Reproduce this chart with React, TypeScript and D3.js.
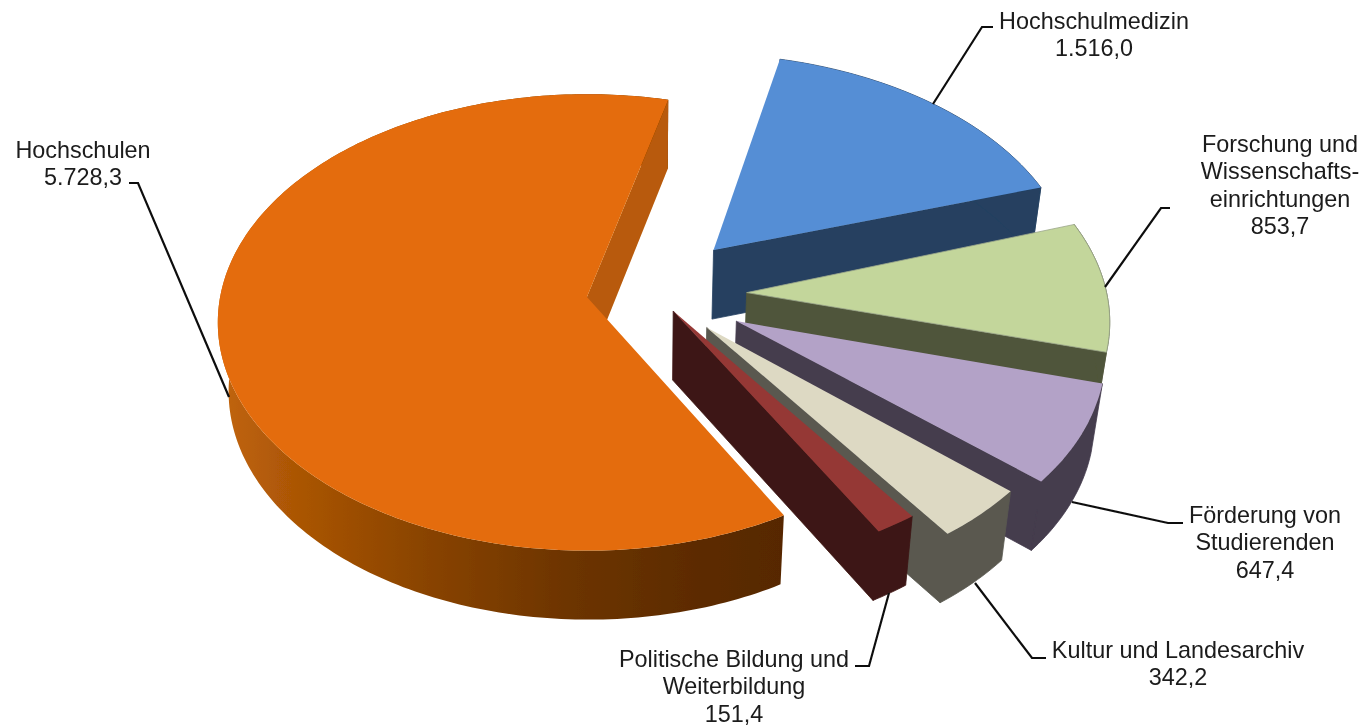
import React from "react";
import * as d3 from "d3";

const categories = ["Hochschulen", "Hochschulmedizin", "Forschung und Wissenschaftseinrichtungen", "Förderung von Studierenden", "Kultur und Landesarchiv", "Politische Bildung und Weiterbildung"];
const values = [5728.3, 1516.0, 853.7, 647.4, 342.2, 151.4];
const labelLines = [
  ["Hochschulen"],
  ["Hochschulmedizin"],
  ["Forschung und", "Wissenschafts-", "einrichtungen"],
  ["Förderung von", "Studierenden"],
  ["Kultur und Landesarchiv"],
  ["Politische Bildung und", "Weiterbildung"],
];
const topColors = ["#E46C0A", "#558ED5", "#C3D69B", "#B3A2C7", "#DDD9C3", "#953735"];
const wallColors = ["#B85A08", "#254061", "#4F543A", "#453C4E", "#5A5950", "#3D1514"];
const explode = [0.215, 0.25, 0.215, 0.22, 0.18, 0.09];
const nudge = [[-1, -1], [-14, -5], [-4, -5], [-7, 0], [-10, 2], [-13, 1]];
const apexShift = [[0, 0], [1, 3], [6, 6], [5, 5], [5, 3], [2, 1]];
const labelPos = [
  { x: 83, y: 158 }, { x: 1094, y: 29 }, { x: 1280, y: 152 },
  { x: 1265, y: 523 }, { x: 1178, y: 658 }, { x: 734, y: 667 },
];
const leaders = [
  [[129, 183], [138, 183], [229, 397]],
  [[993, 27], [982, 27], [933, 104]],
  [[1170, 208], [1161, 208], [1105, 287]],
  [[1183, 523], [1168, 523], [1072, 502]],
  [[1046, 658], [1032, 658], [975, 583]],
  [[855, 666], [869, 666], [889, 593]],
];
const wallStops = [
  [0, "#C0640A"], [0.12, "#AC5606"], [0.35, "#8A4403"], [0.6, "#6E3501"], [0.85, "#5C2B00"], [1, "#572800"],
];

const fmt = d3.formatLocale({ decimal: ",", thousands: ".", grouping: [3], currency: ["", ""] }).format(",.1f");
const rad = Math.PI / 180;
const OX = 588, OY = 298, RX = 367, RY = 225.6, P = 0.1117, DEPTH = 69, XC = 650, K = 0.025;
const order = [1, 2, 3, 4, 5, 0];

const pie = d3.pie<number>().sort(null).startAngle(151 * rad).endAngle(511 * rad);
const arcs = pie(values);
const base = { x: 0.213, z: -0.028 };
const line = d3.line();

function top(x: number, z: number): [number, number] {
  const s = 1 / (1 - P * z);
  return [OX + RX * x * s, OY + RY * z * s];
}
function bot(x: number, z: number): [number, number] {
  const [a, b] = top(x, z);
  return [XC + (a - XC) * (1 - K), b + DEPTH];
}

function slice(i: number) {
  const a = arcs[i];
  const mid = (a.startAngle + a.endAngle) / 2;
  const ax = base.x + explode[i] * Math.sin(mid) + nudge[i][0] / RX;
  const az = base.z - explode[i] * Math.cos(mid) + nudge[i][1] / RY;
  const n = Math.max(2, Math.ceil((a.endAngle - a.startAngle) / rad));
  const angles = d3.range(n + 1).map((k) => a.startAngle + ((a.endAngle - a.startAngle) * k) / n);
  const rim = angles.map((t) => [ax + Math.sin(t), az - Math.cos(t)] as [number, number]);
  const topArc = rim.map(([x, z]) => top(x, z));
  const botArc = rim.map(([x, z]) => bot(x, z));
  const ax2 = ax + apexShift[i][0] / RX, az2 = az + apexShift[i][1] / RY;
  const A = top(ax2, az2), B = bot(ax2, az2);
  const last = rim.length - 1;
  const outer = line([...topArc, ...botArc.slice().reverse()])! + "Z";
  const wallEnd = line([A, topArc[last], botArc[last], B])! + "Z";
  return { face: line([A, ...topArc])! + "Z", outer, wallEnd };
}

export default function App() {
  return (
    <svg width={1366} height={727} style={{ position: "absolute", left: 0, top: 0, background: "#fff" }}
      fontFamily="'Liberation Sans', Arial, sans-serif" fontSize={23.4} fill="#1a1a1a">
      <defs>
        <linearGradient id="wallOrange" gradientUnits="userSpaceOnUse" x1={225} x2={785} y1={0} y2={0}>
          {wallStops.map(([o, c]) => <stop key={o as number} offset={o as number} stopColor={c as string} />)}
        </linearGradient>
        <filter id="soft" x="0" y="0" width="1366" height="727" filterUnits="userSpaceOnUse">
          <feGaussianBlur stdDeviation={0.45} />
        </filter>
      </defs>
      <g filter="url(#soft)">
        {order.map((i) => {
          const p = slice(i);
          const edge = i === 2 ? { stroke: "#9BA68A", strokeWidth: 0.8 } : {};
          return (
            <g key={categories[i]}>
              {i === 0 ? (
                <>
                  <path d={p.outer} fill="url(#wallOrange)" />
                  <path d={p.wallEnd} fill={wallColors[i]} />
                </>
              ) : (
                <path d={p.outer + p.wallEnd} fill={wallColors[i]} fillRule="nonzero" stroke={wallColors[i]} strokeWidth={0.8} strokeLinejoin="round" />
              )}
              <path d={p.face} fill={topColors[i]} {...edge} />
            </g>
          );
        })}
        {leaders.map((pts, i) => (
          <path key={i} d={line(pts as [number, number][])!} fill="none" stroke="#111" strokeWidth={2.2} />
        ))}
        {categories.map((c, i) => (
          <text key={c} textAnchor="middle">
            {[...labelLines[i], fmt(values[i])].map((t, j) => (
              <tspan key={j} x={labelPos[i].x} y={labelPos[i].y + j * 27.4}>{t}</tspan>
            ))}
          </text>
        ))}
      </g>
    </svg>
  );
}
